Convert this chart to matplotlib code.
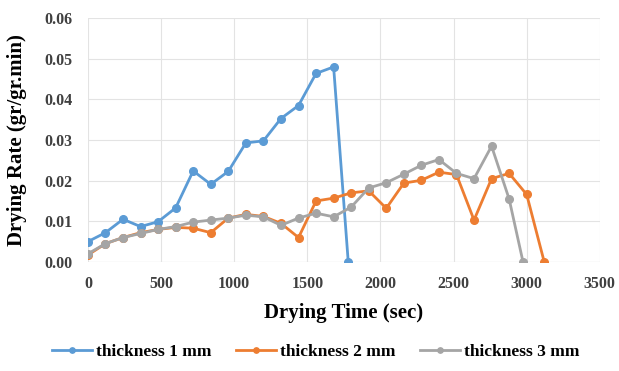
import numpy as np
import matplotlib
matplotlib.use('Agg')
from matplotlib import pyplot as plt

# drying time (sec) and drying rate (gr/gr.min)
t1 = [0, 120, 240, 360, 480, 600, 720, 840, 960, 1080, 1200, 1320, 1440, 1560, 1680, 1780]
r1 = [0.0050, 0.0072, 0.0105, 0.0087, 0.0099, 0.0133, 0.0224, 0.0191, 0.0223, 0.0293,
      0.0298, 0.0353, 0.0385, 0.0464, 0.0480, 0.0]

t2 = [0, 120, 240, 360, 480, 600, 720, 840, 960, 1080, 1200, 1320, 1440, 1560, 1680,
      1800, 1920, 2040, 2160, 2280, 2400, 2520, 2640, 2760, 2880, 3000, 3120]
r2 = [0.0017, 0.0045, 0.0060, 0.0072, 0.0080, 0.0085, 0.0083, 0.0072, 0.0108, 0.0117,
      0.0112, 0.0095, 0.0060, 0.0150, 0.0157, 0.0170, 0.0175, 0.0132, 0.0194, 0.0201,
      0.0221, 0.0215, 0.0103, 0.0205, 0.0218, 0.0166, 0.0]

t3 = [0, 120, 240, 360, 480, 600, 720, 840, 960, 1080, 1200, 1320, 1440, 1560, 1680,
      1800, 1920, 2040, 2160, 2280, 2400, 2520, 2640, 2760, 2880, 2975]
r3 = [0.0020, 0.0045, 0.0060, 0.0070, 0.0080, 0.0087, 0.0098, 0.0103, 0.0108, 0.0115,
      0.0111, 0.0090, 0.0108, 0.0120, 0.0111, 0.0135, 0.0182, 0.0195, 0.0216, 0.0238,
      0.0252, 0.0218, 0.0205, 0.0285, 0.0155, 0.0]

labels = ['thickness 1 mm', 'thickness 2 mm', 'thickness 3 mm']
colors = ['#5B9BD5', '#ED7D31', '#A5A5A5']

plt.rcParams['font.family'] = 'Liberation Serif'
plt.rcParams['font.weight'] = 'bold'

fig = plt.figure(figsize=(6.19, 3.71), dpi=100)
ax = fig.add_axes([0.142, 0.294, 0.827, 0.657])

for t, r, lab, c in zip([t1, t2, t3], [r1, r2, r3], labels, colors):
    ax.plot(t, r, color=c, lw=2, marker='o', ms=5.5, label=lab)

ax.set_xlim(0, 3500)
ax.set_ylim(0, 0.06)
ax.set_xticks(np.arange(0, 3501, 500))
ax.set_yticks(np.arange(0, 0.061, 0.01))
ax.set_yticklabels(['%.2f' % v for v in np.arange(0, 0.061, 0.01)])
ax.tick_params(length=0, labelsize=11.5, colors='#404040')
ax.tick_params(axis='y', pad=11)
ax.tick_params(axis='x', pad=10)
for lbl in ax.get_xticklabels() + ax.get_yticklabels():
    lbl.set_fontweight('bold')
ax.grid(True, color='#E3E3E3', lw=0.8)
ax.set_axisbelow(True)
for s in ax.spines.values():
    s.set_visible(False)
ax.axhline(0, color='#D9D9D9', lw=0.8, zorder=0)

ax.set_xlabel('Drying Time (sec)', fontsize=15, fontweight='bold', va='center')
ax.xaxis.set_label_coords(0.5, -0.209)
ax.set_ylabel('Drying Rate (gr/gr.min)', fontsize=15, fontweight='bold', va='center')
ax.yaxis.set_label_coords(-0.139, 0.5)

fig.legend(loc='center', bbox_to_anchor=(0.51, 0.051), ncol=3, frameon=False,
           prop={'size': 12.5, 'weight': 'bold'}, handlelength=2.3, columnspacing=1.4,
           handletextpad=0.25, markerscale=0.7)

fig.savefig('out.png', dpi=100)
